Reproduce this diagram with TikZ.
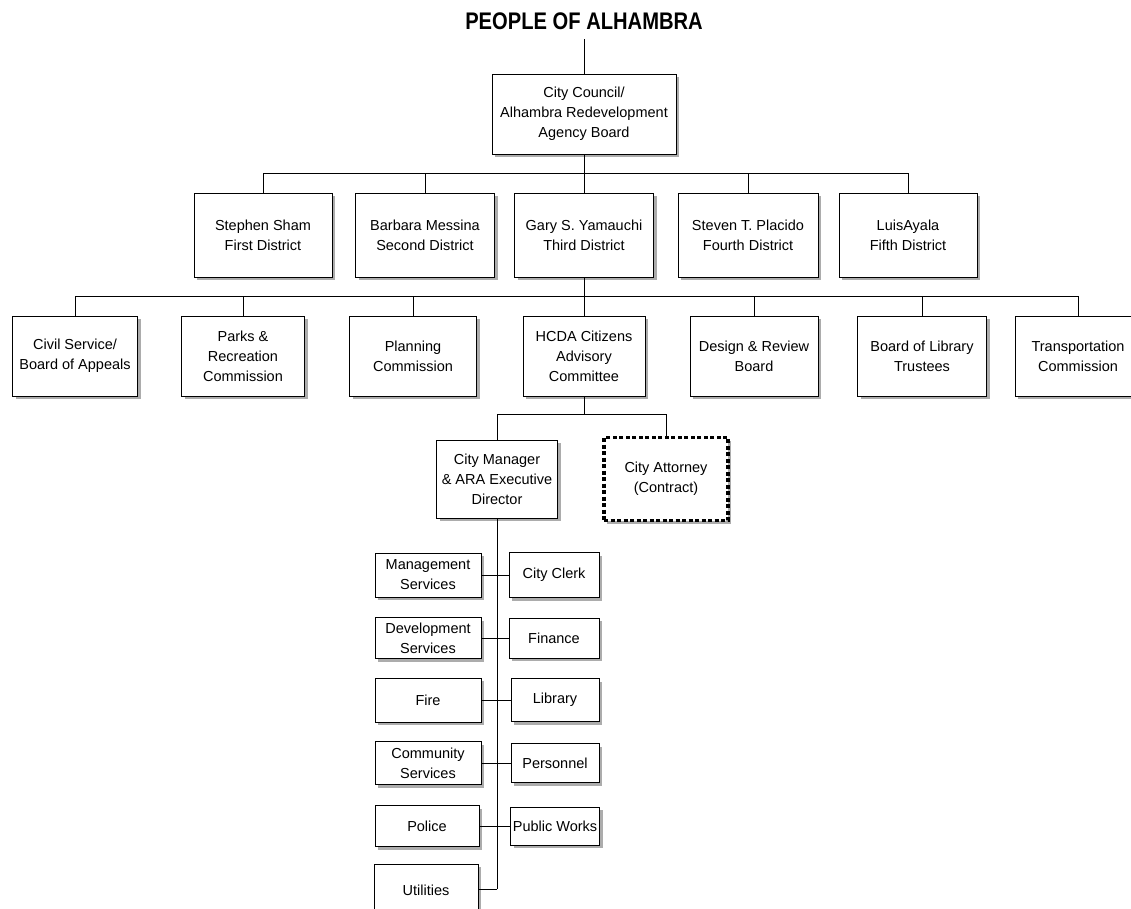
\documentclass[tikz,border=0pt]{standalone}
\usepackage{fontspec}
\setmainfont{Liberation Sans}
\usetikzlibrary{shadows}
\begin{document}
\begin{tikzpicture}[x=1pt,y=-1pt,
  box/.style={draw, line width=0.8pt, fill=white, align=center, inner sep=0pt,
    font=\fontsize{14.5}{20}\selectfont,
    drop shadow={shadow xshift=3pt, shadow yshift=-3pt, fill=gray!65, opacity=1}},
  dotbox/.style={box, draw=none},
  conn/.style={line width=0.8pt},
  titlestyle/.style={font=\bfseries\fontsize{24}{28}\selectfont, xscale=0.84, transform shape, inner sep=0pt}]
\useasboundingbox (0,0) rectangle (1131,908);
\clip (0,0) rectangle (1131,908);
\fill[white] (0,0) rectangle (1131,908);

% title
\node[titlestyle] (title) at (584,21) {PEOPLE OF ALHAMBRA};
\coordinate (topend) at (584,39);

% council
\node[box, minimum width=184pt, minimum height=80pt] (council) at (584,114)
  {City Council/\\Alhambra Redevelopment\\Agency Board};

% districts
\node[box, minimum width=138pt, minimum height=84pt] (d1) at (263,235) {Stephen Sham\\First District};
\node[box, minimum width=139pt, minimum height=84pt] (d2) at (425,235) {Barbara Messina\\Second District};
\node[box, minimum width=139pt, minimum height=84pt] (d3) at (584,235) {Gary S. Yamauchi\\Third District};
\node[box, minimum width=140pt, minimum height=84pt] (d4) at (748,235) {Steven T. Placido\\Fourth District};
\node[box, minimum width=138pt, minimum height=84pt] (d5) at (908,235) {LuisAyala\\Fifth District};

% commissions
\node[box, minimum width=125pt, minimum height=80pt] (c1) at (75,356) {Civil Service/\\Board of Appeals};
\node[box, minimum width=123pt, minimum height=80pt] (c2) at (243,356) {Parks \&\\Recreation\\Commission};
\node[box, minimum width=127pt, minimum height=80pt] (c3) at (413,356) {Planning\\Commission};
\node[box, minimum width=122pt, minimum height=80pt] (c4) at (584,356) {HCDA Citizens\\Advisory\\Committee};
\node[box, minimum width=128pt, minimum height=80pt] (c5) at (754,356) {Design \& Review\\Board};
\node[box, minimum width=129pt, minimum height=80pt] (c6) at (922,356) {Board of Library\\Trustees};
\node[box, minimum width=126pt, minimum height=80pt] (c7) at (1078,356) {Transportation\\Commission};

% manager and attorney
\node[box, minimum width=121pt, minimum height=78pt] (cm) at (497,479) {City Manager\\\& ARA Executive\\Director};
\node[box, draw=black, line width=3.2pt, dash pattern=on 4pt off 2.5pt, minimum width=124pt, minimum height=83pt] (att) at (666,479) {City Attorney\\(Contract)};

% departments
\node[box, minimum width=106pt, minimum height=44pt] (mgmt) at (428,575) {Management\\Services};
\node[box, minimum width=90pt, minimum height=45pt] (clerk) at (554,575) {City Clerk};
\node[box, minimum width=106pt, minimum height=41pt] (dev) at (428,638) {Development\\Services};
\node[box, minimum width=90pt, minimum height=40pt] (fin) at (554,638) {Finance};
\node[box, minimum width=106pt, minimum height=44pt] (fire) at (428,700) {Fire};
\node[box, minimum width=88pt, minimum height=43pt] (lib) at (555,700) {Library};
\node[box, minimum width=106pt, minimum height=43pt] (comm) at (428,763) {Community\\Services};
\node[box, minimum width=88pt, minimum height=39pt] (pers) at (555,763) {Personnel};
\node[box, minimum width=104pt, minimum height=41pt] (pol) at (427,826) {Police};
\node[box, minimum width=89pt, minimum height=38pt] (pw) at (555,826) {Public Works};
\node[box, minimum width=104pt, minimum height=52pt] (util) at (426,890) {Utilities};

% connectors
\coordinate (bus1) at (584,173);
\coordinate (bus2) at (584,296);
\coordinate (bus3) at (584,414);
\coordinate (spine) at (497,889);

\draw[conn] (topend) -- (council.north);
\draw[conn] (council.south) -- (bus1);
\foreach \n in {d1,d2,d3,d4,d5} \draw[conn] (bus1) -| (\n.north);
\draw[conn] (d3.south) -- (bus2);
\foreach \n in {c1,c2,c3,c4,c5,c6,c7} \draw[conn] (bus2) -| (\n.north);
\draw[conn] (c4.south) -- (bus3);
\draw[conn] (bus3) -| (cm.north);
\draw[conn] (bus3) -| (att.north);
\draw[conn] (cm.south) -- (spine);
\draw[conn] (spine) -- (util.east |- spine);
\draw[conn] (mgmt.east) -- (clerk.west);
\draw[conn] (dev.east) -- (fin.west);
\draw[conn] (fire.east) -- (lib.west);
\draw[conn] (comm.east) -- (pers.west);
\draw[conn] (pol.east) -- (pw.west);
\end{tikzpicture}
\end{document}
